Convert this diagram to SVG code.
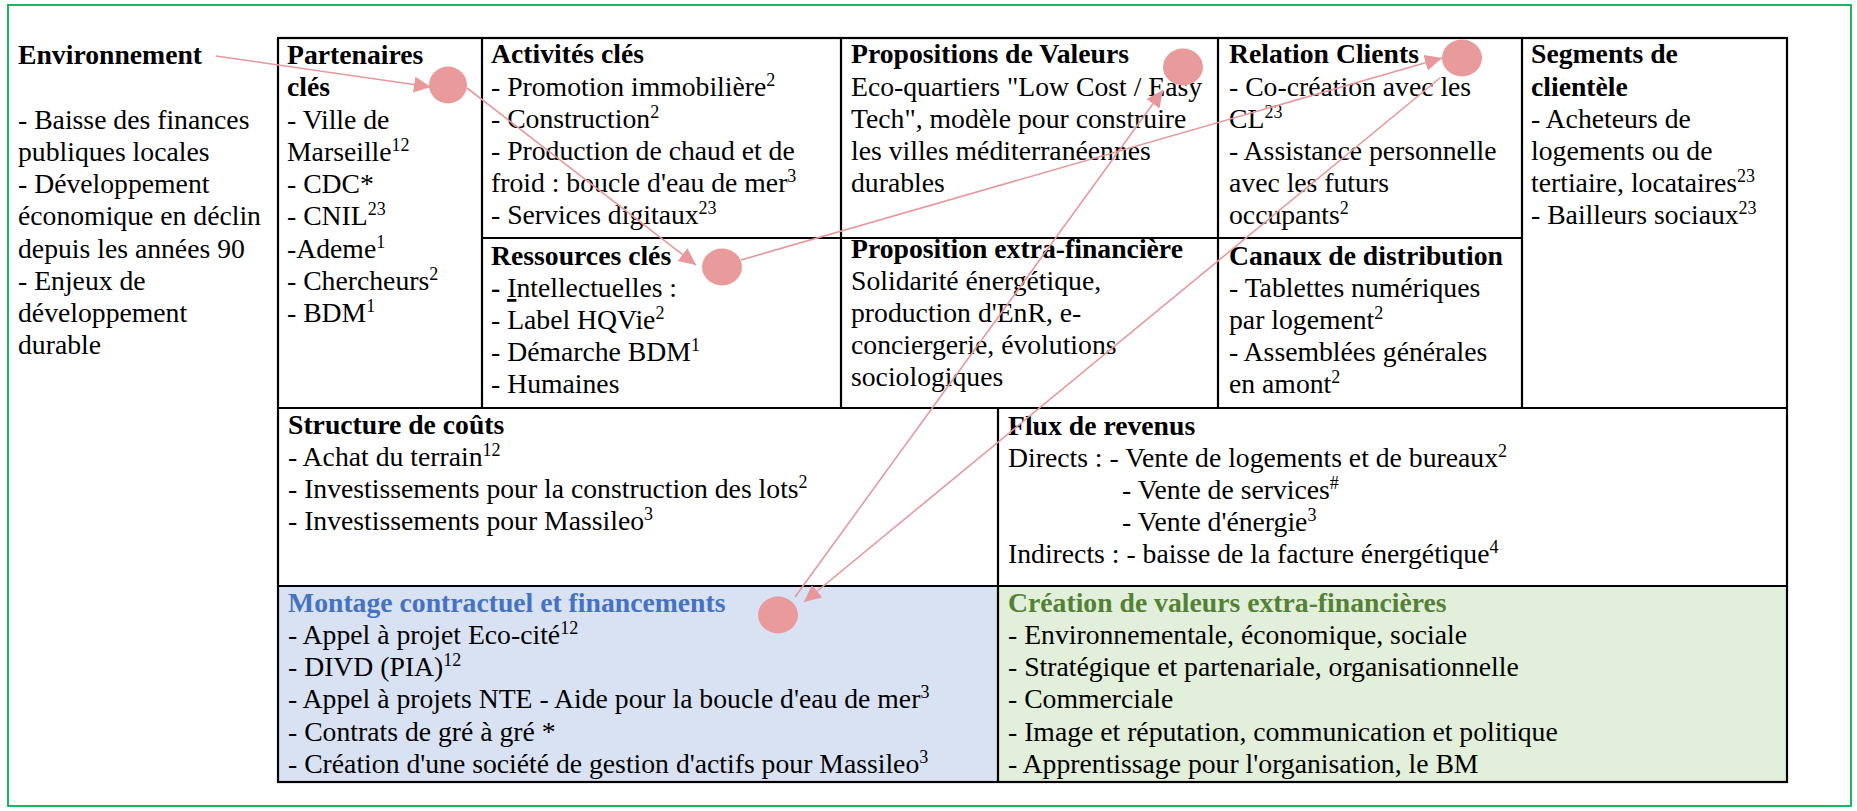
<svg xmlns="http://www.w3.org/2000/svg" width="1857" height="811" viewBox="0 0 1857 811">
<style>
text { font-family: "Liberation Serif", "Times New Roman", serif; font-size: 27.7px; fill: #000; }
.b { font-weight: bold; }
.blue { fill: #4472C4; font-weight: bold; }
.green { fill: #548235; font-weight: bold; }
.grid { stroke: #000; stroke-width: 2.2; fill: none; }
.conn { stroke: #E8989A; stroke-width: 1.6; fill: none; }
.dot { fill: #E99A9B; }
</style>
<defs>
<marker id="ah" markerUnits="userSpaceOnUse" markerWidth="20" markerHeight="18" refX="17" refY="8" orient="auto">
<path d="M0,0 L17,8 L0,16 Z" fill="#E8989A"/>
</marker>
</defs>
<rect x="8" y="5" width="1843" height="801" fill="#fff" stroke="#00B050" stroke-width="1.8"/>

<rect x="278" y="586" width="720" height="196" fill="#D9E2F3"/>
<rect x="998" y="586" width="789" height="196" fill="#E2EFDA"/>

<g id="grid">
<rect class="grid" x="278" y="38" width="1509" height="744"/>
<line class="grid" x1="278" y1="408" x2="1787" y2="408"/>
<line class="grid" x1="278" y1="586" x2="1787" y2="586"/>
<line class="grid" x1="482" y1="38" x2="482" y2="408"/>
<line class="grid" x1="841" y1="38" x2="841" y2="408"/>
<line class="grid" x1="1218" y1="38" x2="1218" y2="408"/>
<line class="grid" x1="1522" y1="38" x2="1522" y2="408"/>
<line class="grid" x1="482" y1="238" x2="1522" y2="238"/>
<line class="grid" x1="998" y1="408" x2="998" y2="782"/>
</g>

<g id="environnement">
<text x="18" y="64" class="b">Environnement</text>
<text x="18" y="129">- Baisse des finances</text>
<text x="18" y="161">publiques locales</text>
<text x="18" y="193">- Développement</text>
<text x="18" y="225">économique en déclin</text>
<text x="18" y="258">depuis les années 90</text>
<text x="18" y="290">- Enjeux de</text>
<text x="18" y="322">développement</text>
<text x="18" y="354">durable</text>
</g>

<g id="partenaires">
<text x="287" y="64" class="b">Partenaires</text>
<text x="287" y="96" class="b">clés</text>
<text x="287" y="129">- Ville de</text>
<text x="287" y="161">Marseille<tspan font-size="18" dy="-10">12</tspan></text>
<text x="287" y="193">- CDC*</text>
<text x="287" y="225">- CNIL<tspan font-size="18" dy="-10">23</tspan></text>
<text x="287" y="258">-Ademe<tspan font-size="18" dy="-10">1</tspan></text>
<text x="287" y="290">- Chercheurs<tspan font-size="18" dy="-10">2</tspan></text>
<text x="287" y="322">- BDM<tspan font-size="18" dy="-10">1</tspan></text>
</g>

<g id="activites">
<text x="491" y="63" class="b">Activités clés</text>
<text x="491" y="96">- Promotion immobilière<tspan font-size="18" dy="-10">2</tspan></text>
<text x="491" y="128">- Construction<tspan font-size="18" dy="-10">2</tspan></text>
<text x="491" y="160">- Production de chaud et de</text>
<text x="491" y="192">froid : boucle d'eau de mer<tspan font-size="18" dy="-10">3</tspan></text>
<text x="491" y="224">- Services digitaux<tspan font-size="18" dy="-10">23</tspan></text>
</g>

<g id="ressources">
<text x="491" y="265" class="b">Ressources clés</text>
<text x="491" y="297"><tspan font-weight="bold">-</tspan> <tspan text-decoration="underline">I</tspan>ntellectuelles :</text>
<text x="491" y="329">- Label HQVie<tspan font-size="18" dy="-10">2</tspan></text>
<text x="491" y="361">- Démarche BDM<tspan font-size="18" dy="-10">1</tspan></text>
<text x="491" y="393">- Humaines</text>
</g>

<g id="propositions">
<text x="851" y="63" class="b">Propositions de Valeurs</text>
<text x="851" y="96">Eco-quartiers "Low Cost / Easy</text>
<text x="851" y="128">Tech", modèle pour construire</text>
<text x="851" y="160">les villes méditerranéennes</text>
<text x="851" y="192">durables</text>
</g>

<g id="extra-financiere">
<text x="851" y="258" class="b">Proposition extra-financière</text>
<text x="851" y="290">Solidarité énergétique,</text>
<text x="851" y="322">production d'EnR, e-</text>
<text x="851" y="354">conciergerie, évolutions</text>
<text x="851" y="386">sociologiques</text>
</g>

<g id="relation">
<text x="1229" y="63" class="b">Relation Clients</text>
<text x="1229" y="96">- Co-création avec les</text>
<text x="1229" y="128">CL<tspan font-size="18" dy="-10">23</tspan></text>
<text x="1229" y="160">- Assistance personnelle</text>
<text x="1229" y="192">avec les futurs</text>
<text x="1229" y="224">occupants<tspan font-size="18" dy="-10">2</tspan></text>
</g>

<g id="canaux">
<text x="1229" y="265" class="b">Canaux de distribution</text>
<text x="1229" y="297">- Tablettes numériques</text>
<text x="1229" y="329">par logement<tspan font-size="18" dy="-10">2</tspan></text>
<text x="1229" y="361">- Assemblées générales</text>
<text x="1229" y="393">en amont<tspan font-size="18" dy="-10">2</tspan></text>
</g>

<g id="segments">
<text x="1531" y="63" class="b">Segments de</text>
<text x="1531" y="96" class="b">clientèle</text>
<text x="1531" y="128">- Acheteurs de</text>
<text x="1531" y="160">logements ou de</text>
<text x="1531" y="192">tertiaire, locataires<tspan font-size="18" dy="-10">23</tspan></text>
<text x="1531" y="224">- Bailleurs sociaux<tspan font-size="18" dy="-10">23</tspan></text>
</g>

<g id="couts">
<text x="288" y="434" class="b">Structure de coûts</text>
<text x="288" y="466">- Achat du terrain<tspan font-size="18" dy="-10">12</tspan></text>
<text x="288" y="498">- Investissements pour la construction des lots<tspan font-size="18" dy="-10">2</tspan></text>
<text x="288" y="530">- Investissements pour Massileo<tspan font-size="18" dy="-10">3</tspan></text>
</g>

<g id="revenus">
<text x="1008" y="435" class="b">Flux de revenus</text>
<text x="1008" y="467">Directs : - Vente de logements et de bureaux<tspan font-size="18" dy="-10">2</tspan></text>
<text x="1122" y="499">- Vente de services<tspan font-size="18" dy="-10">#</tspan></text>
<text x="1122" y="531">- Vente d'énergie<tspan font-size="18" dy="-10">3</tspan></text>
<text x="1008" y="563">Indirects : - baisse de la facture énergétique<tspan font-size="18" dy="-10">4</tspan></text>
</g>

<g id="montage">
<text x="288" y="612" class="blue">Montage contractuel et financements</text>
<text x="288" y="644">- Appel à projet Eco-cité<tspan font-size="18" dy="-10">12</tspan></text>
<text x="288" y="676">- DIVD (PIA)<tspan font-size="18" dy="-10">12</tspan></text>
<text x="288" y="708">- Appel à projets NTE - Aide pour la boucle d'eau de mer<tspan font-size="18" dy="-10">3</tspan></text>
<text x="288" y="741">- Contrats de gré à gré *</text>
<text x="288" y="773">- Création d'une société de gestion d'actifs pour Massileo<tspan font-size="18" dy="-10">3</tspan></text>
</g>

<g id="creation">
<text x="1008" y="612" class="green">Création de valeurs extra-financières</text>
<text x="1008" y="644">- Environnementale, économique, sociale</text>
<text x="1008" y="676">- Stratégique et partenariale, organisationnelle</text>
<text x="1008" y="708">- Commerciale</text>
<text x="1008" y="741">- Image et réputation, communication et politique</text>
<text x="1008" y="773">- Apprentissage pour l'organisation, le BM</text>
</g>

<g id="dots">
<ellipse id="dot1" class="dot" cx="448" cy="85" rx="19" ry="18.5"/>
<ellipse id="dot2" class="dot" cx="722" cy="267" rx="20" ry="18.5"/>
<ellipse id="dot3" class="dot" cx="1183" cy="67" rx="20" ry="18.5"/>
<ellipse id="dot4" class="dot" cx="1462" cy="58" rx="20" ry="18.5"/>
<ellipse id="dot5" class="dot" cx="778" cy="615" rx="20" ry="18.5"/>
</g>

<g id="connectors">
<line class="conn" x1="216" y1="56" x2="431" y2="87" marker-end="url(#ah)"/>
<line class="conn" x1="467" y1="88" x2="696" y2="265" marker-end="url(#ah)"/>
<line class="conn" x1="741" y1="260" x2="1442" y2="58" marker-end="url(#ah)"/>
<line class="conn" x1="795" y1="597" x2="1163" y2="90" marker-end="url(#ah)"/>
<line class="conn" x1="1440" y1="78" x2="804" y2="602" marker-end="url(#ah)"/>
</g>
</svg>
